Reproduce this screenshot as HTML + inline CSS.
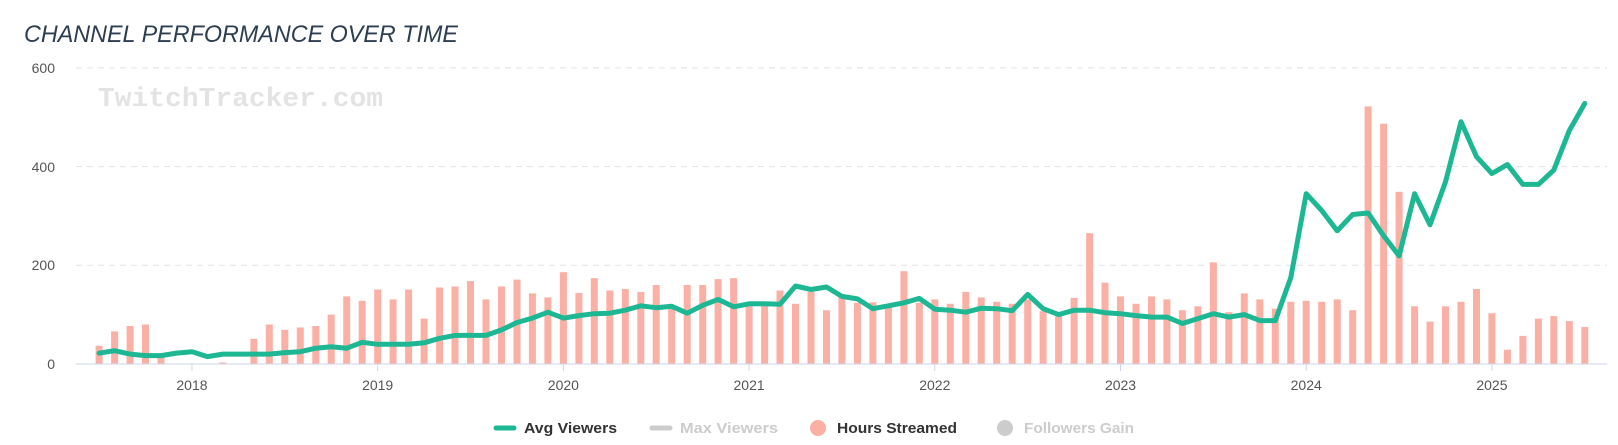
<!DOCTYPE html>
<html><head><meta charset="utf-8"><style>
html,body{margin:0;padding:0;background:#fff;}
svg{display:block;}
</style></head><body>
<svg id="c" width="1618" height="445" xmlns="http://www.w3.org/2000/svg" font-family="Liberation Sans, sans-serif">
<text x="24" y="42" font-size="24" font-style="italic" fill="#2c3e50" textLength="434" lengthAdjust="spacingAndGlyphs">CHANNEL PERFORMANCE OVER TIME</text>
<g stroke="#e2e2e2" stroke-width="1" stroke-dasharray="6,5">
<line x1="76" x2="1607" y1="67.9" y2="67.9"/>
<line x1="76" x2="1607" y1="166.6" y2="166.6"/>
<line x1="76" x2="1607" y1="265.3" y2="265.3"/>
</g>
<g font-size="14" fill="#555" text-anchor="end">
<text x="55" y="73">600</text>
<text x="55" y="172">400</text>
<text x="55" y="270">200</text>
<text x="55" y="369">0</text>
</g>
<text x="98" y="106" font-family="Liberation Mono, monospace" font-weight="bold" font-size="27" fill="#e3e3e3" textLength="285" lengthAdjust="spacingAndGlyphs">TwitchTracker.com</text>
<g id="bars" fill="#fbb0a6"></g>
<line x1="76" x2="1607" y1="364" y2="364" stroke="#ccd6eb" stroke-width="1"/>
<g id="ticks" stroke="#ccd6eb" stroke-width="1"></g>
<g id="years" font-size="14" fill="#555" text-anchor="middle"></g>
<polyline id="line" fill="none" stroke="#1db893" stroke-width="5" stroke-linejoin="round" stroke-linecap="round"/>
<g font-size="15" font-weight="bold">
<line x1="496" x2="514" y1="428" y2="428" stroke="#1db893" stroke-width="5" stroke-linecap="round"/>
<text x="524" y="433" fill="#333" textLength="93" lengthAdjust="spacingAndGlyphs">Avg Viewers</text>
<line x1="652" x2="670" y1="428" y2="428" stroke="#cccccc" stroke-width="5" stroke-linecap="round"/>
<text x="680" y="433" fill="#cccccc" textLength="98" lengthAdjust="spacingAndGlyphs">Max Viewers</text>
<circle cx="818" cy="428" r="8" fill="#fbb0a6"/>
<text x="837" y="433" fill="#333" textLength="120" lengthAdjust="spacingAndGlyphs">Hours Streamed</text>
<circle cx="1005" cy="428" r="8" fill="#cccccc"/>
<text x="1024" y="433" fill="#cccccc" textLength="110" lengthAdjust="spacingAndGlyphs">Followers Gain</text>
</g>
</svg>
<script>
var bars=[37,66,77,80,15,0,0,0,3,0,51,80,69,74,77,100,137,128,151,131,151,92,155,157,168,131,157,171,143,135,186,144,174,149,152,146,160,118,160,160,172,174,120,120,149,122,146,109,140,124,125,118,188,124,131,122,146,135,126,122,131,107,97,134,265,165,137,122,137,131,109,117,206,105,143,131,112,126,128,126,131,109,522,487,349,117,86,117,126,152,103,29,57,92,97,87,75];
var line=[22,27,20,17,17,22,25,15,20,20,20,20,23,25,32,35,32,44,40,40,40,43,52,58,58,58,69,84,93,105,93,98,102,103,109,118,114,117,103,119,131,116,122,122,121,158,151,156,137,132,112,118,124,133,111,109,105,113,112,108,141,112,100,109,109,104,102,98,95,95,82,92,102,95,100,88,88,175,345,311,270,303,306,260,219,345,282,369,491,420,386,404,364,364,393,473,528];
var NS="http://www.w3.org/2000/svg";
function X(i){return 99.1+i*15.476;}
function Y(v){return 364-v*0.4935;}
var g=document.getElementById('bars');
bars.forEach(function(v,i){if(v<=0)return;var r=document.createElementNS(NS,'rect');r.setAttribute('x',(X(i)-3.5).toFixed(1));r.setAttribute('y',Y(v).toFixed(1));r.setAttribute('width',7);r.setAttribute('height',(v*0.4935).toFixed(1));g.appendChild(r);});
document.getElementById('line').setAttribute('points',line.map(function(v,i){return X(i).toFixed(1)+','+Y(v).toFixed(1);}).join(' '));
var t=document.getElementById('ticks'),yr=document.getElementById('years');
for(var k=0;k<8;k++){var i=6+12*k,x=X(i);var l=document.createElementNS(NS,'line');l.setAttribute('x1',x);l.setAttribute('x2',x);l.setAttribute('y1',364);l.setAttribute('y2',371);t.appendChild(l);
var tx=document.createElementNS(NS,'text');tx.setAttribute('x',x);tx.setAttribute('y',390);tx.textContent=2018+k;yr.appendChild(tx);}
</script>
</body></html>
